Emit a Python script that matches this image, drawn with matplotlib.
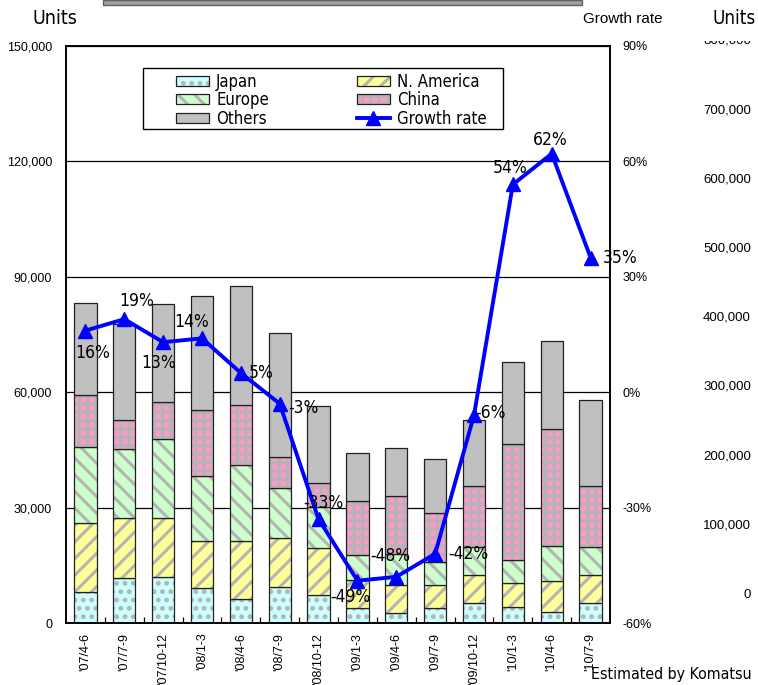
import numpy as np
import matplotlib
matplotlib.use("Agg")
import matplotlib.pyplot as plt
from matplotlib.patches import Patch, Rectangle
from matplotlib.lines import Line2D
from matplotlib.ticker import FuncFormatter
from matplotlib.font_manager import FontProperties

plt.rcParams['hatch.linewidth'] = 2.2

REGULAR = ['Liberation Sans', 'DejaVu Sans']


def narrow(size):
    return FontProperties(family='DejaVu Sans', stretch='condensed', size=size)


# Quarterly demand by region (units)
quarters = ["'07/4-6", "'07/7-9", "'07/10-12", "'08/1-3", "'08/4-6", "'08/7-9", "'08/10-12",
            "'09/1-3", "'09/4-6", "'09/7-9", "'09/10-12", "'10/1-3", "'10/4-6", "'10/7-9"]
japan = [8000, 11600, 11900, 9000, 6200, 9400, 7300, 3800, 2700, 3800, 5100, 4100, 2900, 5100]
n_america = [18100, 15800, 15500, 12400, 15200, 12600, 12100, 7400, 7300, 6000, 7400, 6200, 7900, 7500]
europe = [19700, 17900, 20500, 16800, 19600, 13200, 10800, 6400, 7900, 6100, 7300, 6200, 9300, 7200]
china = [13400, 7400, 9500, 17100, 15800, 8000, 6100, 14100, 15100, 12600, 15800, 30100, 30400, 15800]
others = [24000, 24900, 25600, 29800, 30700, 32100, 20100, 12500, 12500, 14200, 17300, 21200, 22900, 22500]
# Year-on-year growth rate (%)
growth = [16, 19, 13, 14, 5, -3, -33, -49, -48, -42, -6, 54, 62, 35]

regions = ['Japan', 'N. America', 'Europe', 'China', 'Others']
series = [japan, n_america, europe, china, others]
fills = ['#CCFFFF', '#FFFF99', '#CCFFCC', '#FF99CC', '#C0C0C0']
hatches = ['..', '//', '\\\\', '++', None]
hatch_grey = '#B4B4B4'

W, H = 758, 685
fig = plt.figure(figsize=(W / 100, H / 100), dpi=100)


def fx(px):
    return px / W


def fy(py):
    return 1 - py / H


ax = fig.add_axes([fx(66), fy(623), fx(610) - fx(66), fy(46) - fy(623)])
x = np.arange(len(quarters))
bw = 0.575

bottom = np.zeros(len(quarters))
for vals, fc, h in zip(series, fills, hatches):
    ax.bar(x, vals, bw, bottom=bottom, color=fc, hatch=h, edgecolor=hatch_grey,
           linewidth=0, zorder=2)
    ax.bar(x, vals, bw, bottom=bottom, fill=False, edgecolor='#202020',
           linewidth=0.9, zorder=2)
    bottom += np.array(vals)

ax.set_xlim(-0.5, len(quarters) - 0.5)
ax.set_ylim(0, 150000)
ax.set_yticks(np.arange(0, 150001, 30000))
ax.yaxis.set_major_formatter(FuncFormatter(lambda v, p: f'{int(v):,}'))
ax.yaxis.grid(True, color='black', linewidth=0.9)
ax.set_axisbelow(True)
ax.tick_params(axis='y', length=0, pad=10, labelsize=9)
for lab in ax.get_yticklabels():
    lab.set_family(REGULAR)

ax.set_xticks(x)
ax.set_xticklabels(quarters, rotation=90, fontsize=9, family=REGULAR)
ax.set_xticks(x[:-1] + 0.5, minor=True)
ax.tick_params(axis='x', which='major', length=0, pad=7)
ax.tick_params(axis='x', which='minor', direction='in', length=4, width=0.9)

# growth rate on the secondary axis
ax2 = ax.twinx()
ax2.set_ylim(-60, 90)
ax2.set_yticks(np.arange(-60, 91, 30))
ax2.yaxis.set_major_formatter(FuncFormatter(lambda v, p: f'{int(v)}%'))
ax2.tick_params(axis='y', length=0, pad=9, labelsize=9)
for lab in ax2.get_yticklabels():
    lab.set_family(REGULAR)
ax2.plot(x, growth, color='#0000FF', linewidth=2.8, marker='^', markersize=10, zorder=3)

for sp in list(ax.spines.values()) + list(ax2.spines.values()):
    sp.set_color('black')
    sp.set_linewidth(1.2)

# label offsets in pixels (dx, dy, alignment)
offsets = [(7, -22, 'center'), (12, 18, 'center'), (-5, -21, 'center'), (-10, 16, 'center'),
           (8, 0, 'left'), (9, -4, 'left'), (5, 16, 'center'), (-7, -16, 'center'),
           (-6, 21, 'center'), (13, 0, 'left'), (1, 2, 'left'), (-3, 16, 'center'),
           (-1, 14, 'center'), (12, 0, 'left')]
for xi, g, (dx, dy, ha) in zip(x, growth, offsets):
    ax2.annotate(f'{g}%', (xi, g), xytext=(dx * 0.72, dy * 0.72), textcoords='offset points',
                 ha=ha, va='center', fontproperties=narrow(12.5), zorder=4)

# legend frame and two legend columns
ax2.add_patch(Rectangle(((143 - 66) / 544, (623 - 129) / 577), 360 / 544, 61 / 577,
                        transform=ax2.transAxes, facecolor='white', edgecolor='black',
                        linewidth=1.0, zorder=5))


def region_handle(i):
    return (Patch(facecolor=fills[i], hatch=hatches[i], edgecolor=hatch_grey, linewidth=0),
            Patch(fill=False, edgecolor='#202020', linewidth=0.9))


growth_handle = Line2D([], [], color='#0000FF', linewidth=2.8, marker='^', markersize=10)
leg_kw = dict(frameon=False, prop=narrow(12),
              handlelength=1.95, handleheight=0.55, handletextpad=0.45,
              labelspacing=0.02, borderpad=0, borderaxespad=0, loc='upper left')
leg1 = ax2.legend([region_handle(0), region_handle(2), region_handle(4)],
                  ['Japan', 'Europe', 'Others'],
                  bbox_to_anchor=((176 - 66) / 544, (623 - 73) / 577), **leg_kw)
leg1.set_zorder(6)
ax2.add_artist(leg1)
leg2 = ax2.legend([region_handle(1), region_handle(3), growth_handle],
                  ['N. America', 'China', 'Growth rate'],
                  bbox_to_anchor=((357 - 66) / 544, (623 - 73) / 577), **leg_kw)
leg2.set_zorder(6)

# axis titles and note
fig.text(fx(33), fy(19), 'Units', fontproperties=narrow(14), va='center', ha='left')
fig.text(fx(583), fy(19), 'Growth rate', fontsize=11, family=REGULAR, va='center', ha='left')
fig.text(fx(591), fy(674), 'Estimated by Komatsu', fontproperties=narrow(11.4),
         va='center', ha='left')

# neighbouring annual scale
annual_ticks = [0, 100000, 200000, 300000, 400000, 500000, 600000, 700000, 800000]
for i, v in enumerate(annual_ticks):
    fig.text(fx(751), fy(594.5 - i * 69.2), f'{v:,}', fontsize=9.5, family=REGULAR,
             va='center', ha='right', zorder=1)
fig.patches.append(Rectangle((fx(690), fy(41)), fx(68), fy(0) - fy(41), transform=fig.transFigure,
                             facecolor='white', edgecolor='none', zorder=2))
fig.text(fx(756), fy(19), 'Units', fontproperties=narrow(13.5), va='center', ha='right', zorder=3)

# strip along the top edge
fig.patches.append(Rectangle((fx(103), fy(5)), fx(582) - fx(103), fy(0) - fy(5),
                             transform=fig.transFigure, facecolor='#a0a0a0',
                             edgecolor='#606060', linewidth=1, zorder=2))

fig.savefig('out.png', dpi=100)
